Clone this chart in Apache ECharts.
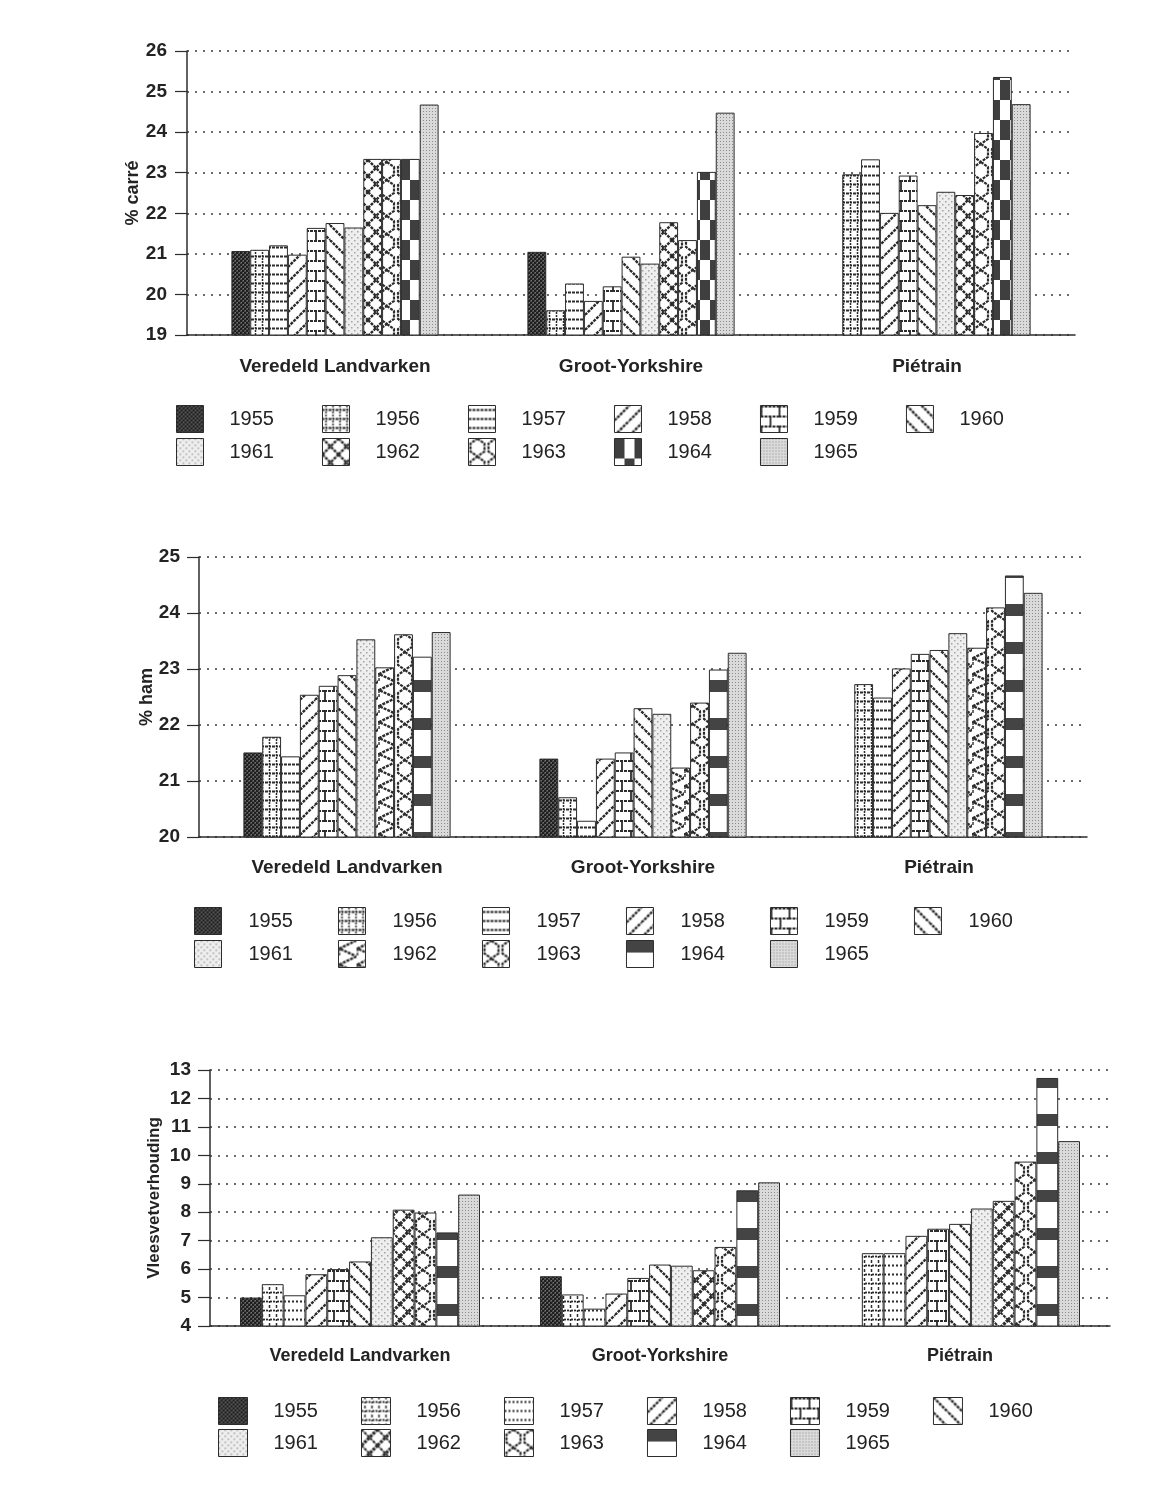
<!DOCTYPE html>
<html>
<head>
<meta charset="utf-8">
<title>Karkassamenstelling per ras, 1955-1965</title>
<script src="https://cdn.jsdelivr.net/npm/echarts/dist/echarts.min.js"></script>
<style>
  html, body { margin: 0; padding: 0; background: #ffffff; }
  #page { position: relative; width: 1161px; height: 1502px; }
  .panel { position: absolute; left: 0; width: 1161px; }
</style>
</head>
<body>
<div id="page">
  <div id="c1" class="panel" style="top:0;height:490px"></div>
  <div id="c2" class="panel" style="top:490px;height:510px"></div>
  <div id="c3" class="panel" style="top:1000px;height:502px"></div>
</div>
<script>
// ---- data ---------------------------------------------------------------
const breeds = ['Veredeld Landvarken', 'Groot-Yorkshire', 'Piétrain'];
const years = ['1955', '1956', '1957', '1958', '1959', '1960',
               '1961', '1962', '1963', '1964', '1965'];

// % carré, per breed, 1955..1965
const carreVL = [21.07, 21.10, 21.21, 20.98, 21.64, 21.76, 21.65, 23.34, 23.34, 23.34, 24.68];
const carreGY = [21.05, 19.61, 20.27, 19.84, 20.20, 20.93, 20.76, 21.78, 21.34, 23.02, 24.48];
const carrePI = [null, 22.96, 23.33, 22.01, 22.93, 22.20, 22.53, 22.45, 23.98, 25.36, 24.69];

// % ham
const hamVL = [21.51, 21.79, 21.44, 22.54, 22.70, 22.89, 23.53, 23.03, 23.62, 23.22, 23.66];
const hamGY = [21.40, 20.71, 20.29, 21.40, 21.51, 22.30, 22.20, 21.24, 22.40, 22.99, 23.29];
const hamPI = [null, 22.73, 22.49, 23.01, 23.27, 23.34, 23.64, 23.38, 24.10, 24.67, 24.36];

// vlees/vet-verhouding
const vvVL = [5.00, 5.47, 5.08, 5.82, 6.00, 6.27, 7.12, 8.09, 7.99, 7.29, 8.62];
const vvGY = [5.75, 5.11, 4.61, 5.14, 5.69, 6.16, 6.12, 5.96, 6.78, 8.77, 9.05];
const vvPI = [null, 6.56, 6.56, 7.17, 7.42, 7.59, 8.13, 8.40, 9.78, 12.72, 10.50];

const carreTicks = [19, 26];
const hamTicks = [20, 25];
const vvTicks = [4, 13];

// ---- hatch fills ----------------------------------------------------------
const INK = '#2c2c2c';
const PAPER = '#ffffff';
const TEXT = '#232323';
const FONT = '"Liberation Sans", Arial, sans-serif';

function tile(w, h, bg, draw) {
  const c = document.createElement('canvas');
  c.width = w; c.height = h;
  const g = c.getContext('2d');
  g.fillStyle = bg; g.fillRect(0, 0, w, h);
  g.strokeStyle = INK; g.fillStyle = INK; g.lineCap = 'butt';
  draw(g, w, h);
  return { image: c, repeat: 'repeat' };
}
function line(g, x1, y1, x2, y2, lw, dash) {
  g.save();
  g.lineWidth = lw;
  if (dash) g.setLineDash(dash);
  g.beginPath(); g.moveTo(x1, y1); g.lineTo(x2, y2); g.stroke();
  g.restore();
}
const fill = {
  dark: () => tile(4, 4, '#4a4a4a', g => {
    g.fillStyle = '#1f1f1f'; g.fillRect(0, 0, 2, 2); g.fillRect(2, 2, 2, 2);
    g.fillStyle = '#707070'; g.fillRect(3, 0, 1, 1); g.fillRect(1, 2, 1, 1);
  }),
  grid: (dash) => tile(7, 9, PAPER, g => {
    line(g, 3.5, 0, 3.5, 9, 1.5, dash);
    line(g, 0, 4.5, 7, 4.5, 1.8, dash);
  }),
  hlines: (dash) => tile(8, 9, PAPER, g => {
    line(g, 0, 4.5, 8, 4.5, 2, dash);
  }),
  diagFwd: (s, lw) => tile(s, s, PAPER, g => {
    for (const k of [-s, 0, s]) line(g, k, s, k + s, 0, lw, [3, 1]);
  }),
  diagBack: (s, lw) => tile(s, s, PAPER, g => {
    for (const k of [-s, 0, s]) line(g, k, 0, k + s, s, lw, [3, 1]);
  }),
  brick: () => tile(18, 20, PAPER, g => {
    line(g, 0, 1, 18, 1, 2, [3, 1]);
    line(g, 0, 11, 18, 11, 2, [3, 1]);
    line(g, 1, 1, 1, 11, 1.8);
    line(g, 10, 11, 10, 20, 1.8);
  }),
  light: () => tile(6, 6, '#eeeeee', g => {
    g.fillStyle = '#a3a3a3';
    g.fillRect(0, 0, 1.5, 1.5); g.fillRect(3, 3, 1.5, 1.5);
  }),
  diamond: (lwA, lwB) => tile(16, 16, PAPER, g => {
    for (const k of [-16, 0, 16]) {
      line(g, k, 16, k + 16, 0, lwA, [3, 1]);
      line(g, k, 0, k + 16, 16, lwB, [3, 1]);
    }
  }),
  octagon: () => tile(18, 18, PAPER, g => {
    g.lineWidth = 2.2; g.setLineDash([3, 1]);
    g.beginPath();
    g.moveTo(9, 0); g.lineTo(16, 5); g.lineTo(16, 13); g.lineTo(9, 18);
    g.lineTo(2, 13); g.lineTo(2, 5); g.closePath();
    g.stroke();
  }),
  chevron: () => tile(18, 16, PAPER, g => {
    g.lineWidth = 2.4; g.setLineDash([3, 1]);
    g.beginPath(); g.moveTo(18, 0); g.lineTo(1, 8); g.lineTo(18, 16); g.stroke();
    line(g, 1, 8, 1, 16, 1.4);
  }),
  checker: () => tile(20, 40, PAPER, g => {
    g.fillStyle = '#3f3f3f';
    g.fillRect(0, 0, 10, 20); g.fillRect(10, 20, 10, 20);
  }),
  bands: () => tile(20, 38, PAPER, g => {
    g.fillStyle = '#444444'; g.fillRect(0, 0, 20, 12);
  }),
  stipple: () => tile(3, 3, '#dadada', g => {
    g.fillStyle = '#8c8c8c'; g.fillRect(0, 0, 1, 1);
  })
};

const fills1 = [fill.dark(), fill.grid([2, 1]), fill.hlines([3, 1]), fill.diagFwd(15, 2.4),
  fill.brick(), fill.diagBack(15, 2.4), fill.light(), fill.diamond(2.4, 2.4),
  fill.octagon(), fill.checker(), fill.stipple()];
const fills2 = [fill.dark(), fill.grid([2, 1]), fill.hlines([3, 1]), fill.diagFwd(15, 2.4),
  fill.brick(), fill.diagBack(15, 2.4), fill.light(), fill.chevron(),
  fill.octagon(), fill.bands(), fill.stipple()];
const fills3 = [fill.dark(), fill.grid([2, 2]), fill.hlines([2, 2]), fill.diagFwd(15, 2.4),
  fill.brick(), fill.diagBack(15, 2.4), fill.light(), fill.diamond(3.2, 2),
  fill.octagon(), fill.bands(), fill.stipple()];

// ---- chart builder --------------------------------------------------------
function legendRow(names, left, top, c) {
  return {
    data: names, left: left, top: top, orient: 'horizontal', padding: 0,
    icon: 'rect', itemWidth: c.iw, itemHeight: 27, itemGap: c.lgGap,
    selectedMode: false,
    itemStyle: { borderColor: INK, borderWidth: 1 },
    textStyle: { fontSize: 20, color: TEXT, fontFamily: FONT, padding: [0, 0, 0, c.lgPad] }
  };
}

function buildOption(c) {
  return {
    animation: false,
    grid: { left: c.left, top: c.top, width: c.width, height: c.height },
    xAxis: {
      type: 'category', data: breeds,
      axisLine: { lineStyle: { color: INK, width: 1.5 } },
      axisTick: { alignWithLabel: true, length: 11, lineStyle: { color: INK, width: 1.2 } },
      axisLabel: { margin: c.xMargin, fontSize: c.catSize, fontWeight: 'bold', color: TEXT, fontFamily: FONT }
    },
    yAxis: {
      type: 'value', min: c.ticks[0], max: c.ticks[1], interval: 1,
      name: c.name, nameLocation: 'middle', nameGap: c.nameGap, nameMoveOverlap: false,
      nameTextStyle: { fontSize: c.nameSize, fontWeight: 'bold', color: TEXT, fontFamily: FONT },
      axisLine: { show: true, lineStyle: { color: INK, width: 1.5 } },
      axisTick: { show: true, length: 12, lineStyle: { color: INK, width: 1.2 } },
      axisLabel: { margin: c.yMargin, fontSize: 19, fontWeight: 'bold', color: TEXT, fontFamily: FONT },
      splitLine: { show: true, lineStyle: { type: [2, 6], color: '#3a3a3a', width: 1.6 } }
    },
    legend: [
      legendRow(years.slice(0, 6), c.lgLeft, c.lgTop1, c),
      legendRow(years.slice(6), c.lgLeft, c.lgTop2, c)
    ],
    series: years.map((y, i) => ({
      type: 'bar', name: y,
      data: [c.vl[i], c.gy[i], c.pi[i]],
      barGap: '0%', barCategoryGap: c.gap,
      itemStyle: { color: c.fills[i], borderColor: INK, borderWidth: 1 }
    }))
  };
}

const charts = [
  { el: 'c1', vl: carreVL, gy: carreGY, pi: carrePI, ticks: carreTicks, fills: fills1,
    name: '% carré', nameGap: 45, nameSize: 18,
    left: 187, top: 51, width: 888, height: 284, gap: '30%', xMargin: 22, yMargin: 20, catSize: 19,
    lgLeft: 176, lgTop1: 405, lgTop2: 438, iw: 27, lgPad: 21, lgGap: 48 },
  { el: 'c2', vl: hamVL, gy: hamGY, pi: hamPI, ticks: hamTicks, fills: fills2,
    name: '% ham', nameGap: 43, nameSize: 18,
    left: 199, top: 67, width: 888, height: 280, gap: '30%', xMargin: 21, yMargin: 19, catSize: 19,
    lgLeft: 194, lgTop1: 417, lgTop2: 450, iw: 27, lgPad: 22, lgGap: 45 },
  { el: 'c3', vl: vvVL, gy: vvGY, pi: vvPI, ticks: vvTicks, fills: fills3,
    name: 'Vleesvetverhouding', nameGap: 47, nameSize: 17,
    left: 210, top: 70, width: 900, height: 256, gap: '20%', xMargin: 21, yMargin: 19, catSize: 18,
    lgLeft: 218, lgTop1: 397, lgTop2: 429, iw: 29, lgPad: 21, lgGap: 43 }
];

charts.forEach(c => {
  const chart = echarts.init(document.getElementById(c.el), null, { renderer: 'canvas' });
  chart.setOption(buildOption(c));
});
</script>
</body>
</html>
